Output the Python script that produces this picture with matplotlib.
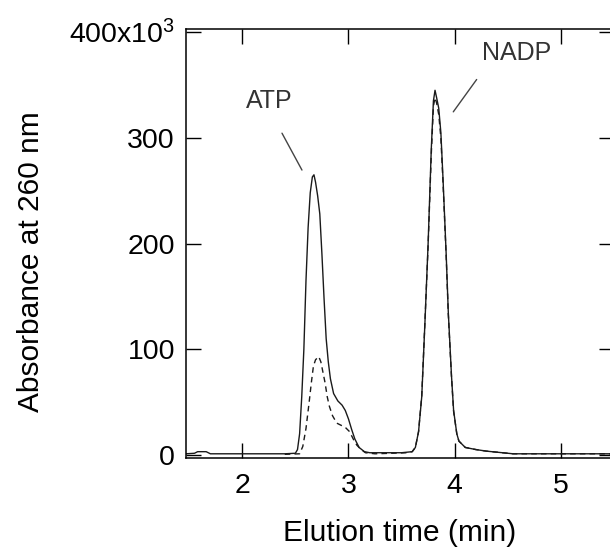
import matplotlib
matplotlib.use("Agg")
import matplotlib.pyplot as plt

plt.rcParams["font.family"] = ["Liberation Sans", "DejaVu Sans"]
plt.rcParams["mathtext.fontset"] = "custom"
plt.rcParams["mathtext.rm"] = "Liberation Sans"
plt.rcParams["mathtext.it"] = "Liberation Sans"

# elution time (min) and absorbance (x10^3)
time_solid = [1.47, 1.55, 1.58, 1.66, 1.70, 2.00, 2.40, 2.50, 2.52, 2.54, 2.56, 2.58,
              2.60, 2.62, 2.64, 2.66, 2.675, 2.69, 2.71, 2.73, 2.75, 2.77, 2.79, 2.81,
              2.83, 2.86, 2.90, 2.94, 2.97, 3.00, 3.03, 3.06, 3.10, 3.15, 3.20, 3.50,
              3.55, 3.60, 3.63, 3.66, 3.69, 3.72, 3.75, 3.78, 3.80, 3.815, 3.83, 3.85,
              3.87, 3.89, 3.92, 3.94, 3.97, 3.99, 4.02, 4.04, 4.10, 4.20, 4.30, 4.45,
              4.55, 5.50]
abs_solid = [1, 1.5, 3, 3, 1, 1, 1, 1.5, 5, 20, 55, 100,
             165, 215, 248, 263, 265, 258, 245, 228, 190, 148, 110, 88,
             72, 58, 51, 47, 42, 34, 24, 15, 7, 3, 2, 2,
             2.5, 3, 7, 22, 55, 125, 200, 290, 335, 345, 338, 328,
             305, 262, 190, 135, 75, 42, 20, 13, 7, 5, 3.5, 2,
             1, 1]

time_dashed = [2.40, 2.54, 2.57, 2.60, 2.63, 2.65, 2.67, 2.69, 2.72, 2.74, 2.76, 2.78,
               2.80, 2.82, 2.85, 2.89, 2.93, 2.97, 3.01, 3.05, 3.08, 3.12, 3.16, 3.25,
               3.55, 3.60, 3.63, 3.66, 3.69, 3.72, 3.75, 3.78, 3.80, 3.815, 3.83, 3.85,
               3.87, 3.89, 3.92, 3.94, 3.97, 3.99, 4.02, 4.04, 4.10, 4.20, 4.30, 4.45,
               4.55, 5.50]
abs_dashed = [0.5, 1, 8, 25, 50, 68, 84, 90, 93, 88, 78, 68,
              55, 46, 37, 30, 28, 26, 22, 14, 9, 5, 2, 1,
              2, 3, 7, 22, 56, 126, 198, 285, 330, 338, 333, 322,
              300, 258, 188, 133, 74, 41, 20, 13, 7, 5, 3.5, 2,
              1, 1]

y_ticks = [0, 100, 200, 300, 400]
y_tick_labels = ["0", "100", "200", "300", r"400x10$^{3}$"]
x_ticks = [2, 3, 4, 5]

fig = plt.figure(figsize=(6.1, 5.48), dpi=100)
ax = fig.add_axes([0.3049, 0.1642, 0.7016, 0.7829])

ax.plot(time_solid, abs_solid, color="#1a1a1a", linewidth=1.0)
ax.plot(time_dashed, abs_dashed, color="#1a1a1a", linewidth=1.0, dashes=(4, 3))

ax.set_xlim(1.47, 5.5)
ax.set_ylim(-3, 403)
ax.set_xticks(x_ticks)
ax.set_yticks(y_ticks)
ax.set_yticklabels(y_tick_labels)
ax.tick_params(direction="in", length=10.5, width=1, top=True, right=True,
               labelsize=20.5, pad=8)
ax.tick_params(axis="x", pad=11)
for spine in ax.spines.values():
    spine.set_linewidth(1.1)

ax.set_xlabel("Elution time (min)", fontsize=21.5, labelpad=14)
ax.set_ylabel("Absorbance at 260 nm", fontsize=21.5)
ax.yaxis.set_label_coords(-0.33, 0.458)

ax.annotate("", xy=(2.562, 269.5), xytext=(2.374, 304.4),
            arrowprops=dict(arrowstyle="-", color="#444444", linewidth=1.0,
                            shrinkA=0, shrinkB=0))
ax.annotate("", xy=(3.987, 324.6), xytext=(4.207, 355.2),
            arrowprops=dict(arrowstyle="-", color="#444444", linewidth=1.0,
                            shrinkA=0, shrinkB=0))
ax.text(2.035, 328, "ATP", fontsize=18, color="#333333", ha="left", va="baseline")
ax.text(4.257, 373.4, "NADP", fontsize=18, color="#333333", ha="left", va="baseline")

fig.savefig("out.png", dpi=100)
